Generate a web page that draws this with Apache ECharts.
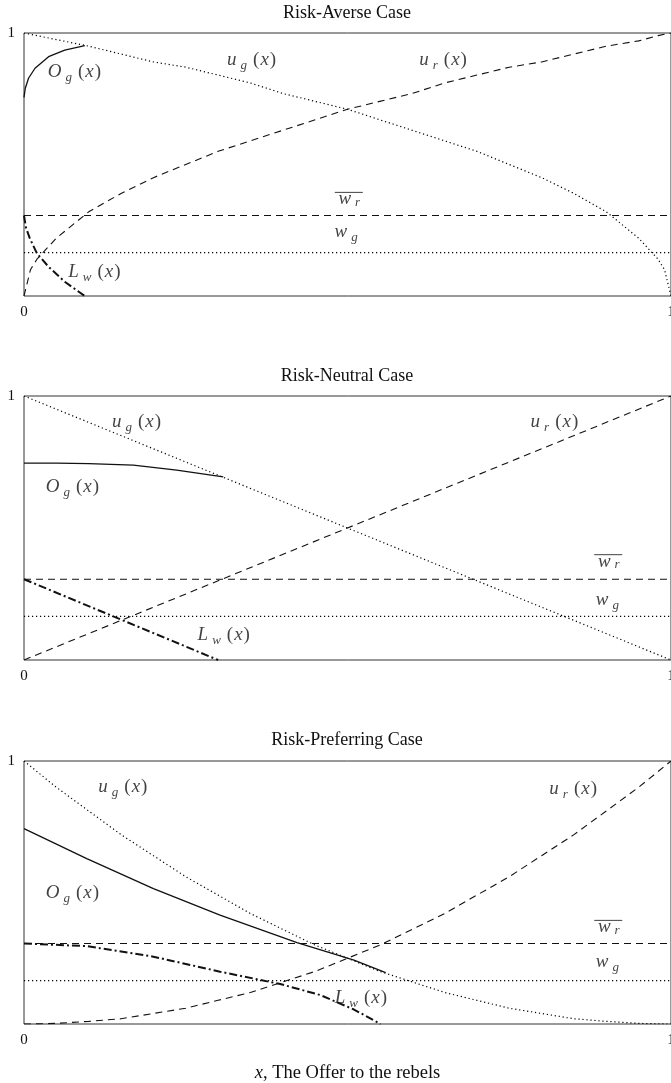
<!DOCTYPE html>
<html>
<head>
<meta charset="utf-8">
<script src="https://cdn.jsdelivr.net/npm/echarts@6/dist/echarts.min.js"></script>
<style>html,body{margin:0;padding:0;background:#fff;}#c{width:671px;height:1083px;}</style>
</head>
<body>
<div id="c"></div>
<script>
// ---- data ----
const panelTitles = ['Risk-Averse Case', 'Risk-Neutral Case', 'Risk-Preferring Case'];
const axisTitle = 'x, The Offer to the rebels';
const xTickLabels = ['0', '1'];
const yTickLabels = ['', '1'];

const wrBar = 0.306;   // reservation value of rebels (dashed horizontal)
const wg = 0.165;      // government war value (dotted horizontal)

// shared x sample points for the utility curves
const xU = [0, 0.01, 0.02, 0.05, 0.1, 0.15, 0.2, 0.25, 0.3, 0.35, 0.4, 0.45, 0.5,
            0.55, 0.6, 0.65, 0.7, 0.75, 0.8, 0.85, 0.9, 0.95, 0.98, 0.99, 1];

// Risk-averse
const ugAverse = [1, 0.995, 0.99, 0.975, 0.95, 0.92, 0.89, 0.87, 0.84, 0.81, 0.77, 0.74, 0.71,
                  0.67, 0.63, 0.59, 0.55, 0.5, 0.45, 0.39, 0.32, 0.22, 0.14, 0.1, 0];
const urAverse = [0, 0.1, 0.14, 0.22, 0.32, 0.39, 0.45, 0.5, 0.55, 0.59, 0.63, 0.67, 0.71,
                  0.74, 0.77, 0.81, 0.84, 0.87, 0.89, 0.92, 0.95, 0.97, 0.99, 0.995, 1];
const xOgAverse = [0, 0.002, 0.007, 0.017, 0.038, 0.063, 0.094];
const ogAverse  = [0.755, 0.79, 0.828, 0.866, 0.91, 0.935, 0.952];
const xLwAverse = [0, 0.003, 0.009, 0.02, 0.038, 0.063, 0.094];
const lwAverse  = [0.306, 0.26, 0.219, 0.162, 0.111, 0.054, 0];

// Risk-neutral
const xLinear = [0, 1];
const ugNeutral = [1, 0];
const urNeutral = [0, 1];
const xOgNeutral = [0, 0.05, 0.1, 0.169, 0.236, 0.308];
const ogNeutral  = [0.746, 0.746, 0.744, 0.738, 0.719, 0.694];
const xLwNeutral = [0, 0.3];
const lwNeutral  = [0.306, 0];

// Risk-preferring
const ugPref = [1, 0.98, 0.96, 0.9, 0.81, 0.72, 0.64, 0.56, 0.49, 0.42, 0.36, 0.3, 0.25,
                0.2, 0.16, 0.12, 0.09, 0.06, 0.04, 0.02, 0.01, 0.0025, 0.0004, 0.0001, 0];
const urPref = [0, 0.0001, 0.0004, 0.0025, 0.01, 0.02, 0.04, 0.06, 0.09, 0.12, 0.16, 0.2, 0.25,
                0.3, 0.36, 0.42, 0.49, 0.56, 0.64, 0.72, 0.81, 0.9, 0.96, 0.98, 1];
const xOgPref = [0, 0.097, 0.2, 0.303, 0.422, 0.51, 0.559];
const ogPref  = [0.743, 0.629, 0.515, 0.414, 0.309, 0.243, 0.195];
const xLwPref = [0, 0.097, 0.2, 0.303, 0.396, 0.458, 0.51, 0.551];
const lwPref  = [0.306, 0.296, 0.256, 0.199, 0.152, 0.11, 0.055, 0];

// label anchors (data coordinates): Og, ug, ur, wr, wg, Lw
const labelNames = ['Og', 'ug', 'ur', 'wr', 'wg', 'Lw'];
const labelXAverse = [0.077, 0.351, 0.647, 0.502, 0.497, 0.108];
const labelYAverse = [0.852, 0.897, 0.897, 0.375, 0.243, 0.091];
const labelXNeutral = [0.074, 0.173, 0.819, 0.903, 0.901, 0.308];
const labelYNeutral = [0.655, 0.902, 0.902, 0.38, 0.227, 0.095];
const labelXPref = [0.074, 0.152, 0.848, 0.903, 0.901, 0.52];
const labelYPref = [0.499, 0.9, 0.894, 0.375, 0.237, 0.098];

// ---- chart ----
const INK = '#111';
const SERIF = 'Liberation Serif';
const zip = (xs, ys) => xs.map((x, i) => [x, ys[i]]);

const labelText = {
  Og: '{i|O}{s|g}{sp| }{p|(}{i|x}{p|)}',
  ug: '{i|u}{s|g}{sp| }{p|(}{i|x}{p|)}',
  ur: '{i|u}{s|r}{sp| }{p|(}{i|x}{p|)}',
  wr: '{ov| }\n{iw|w}{sw|r}',
  wg: '{i|w}{s|g}',
  Lw: '{i|L}{s|w}{sp| }{p|(}{i|x}{p|)}'
};
const rich = {
  i: { fontFamily: SERIF, fontStyle: 'italic', fontSize: 19, color: INK, padding: [0, 1, 0, 1] },
  p: { fontFamily: SERIF, fontSize: 19, color: INK },
  sp: { fontFamily: SERIF, fontSize: 19, width: 6 },
  s: { fontFamily: SERIF, fontStyle: 'italic', fontSize: 13, color: INK, padding: [11, 0, 0, 3] },
  iw: { fontFamily: SERIF, fontStyle: 'italic', fontSize: 19, lineHeight: 10, color: INK, padding: [0, 1, 0, 1] },
  sw: { fontFamily: SERIF, fontStyle: 'italic', fontSize: 13, lineHeight: 6, color: INK, padding: [6, 0, 0, 3] },
  ov: { width: 28, height: 1, backgroundColor: INK, fontSize: 1, lineHeight: 4 }
};

const grids = [
  { left: 24, width: 647, top: 33, height: 263 },
  { left: 24, width: 647, top: 396, height: 264 },
  { left: 24, width: 647, top: 761, height: 263 }
].map(g => Object.assign(g, { show: true, borderColor: '#333', borderWidth: 1,
                              containLabel: false, outerBoundsMode: 'none' }));

const xAxes = grids.map((g, i) => ({
  gridIndex: i, type: 'value', min: 0, max: 1, interval: 1,
  axisLine: { show: false }, axisTick: { show: false }, splitLine: { show: false },
  axisLabel: { margin: 9, fontFamily: SERIF, fontSize: 15, color: INK,
               formatter: v => xTickLabels[Math.round(v)] },
  name: i === 2 ? '{i|x}{t|, The Offer to the rebels}' : '',
  nameLocation: 'middle', nameGap: 40,
  nameTextStyle: { rich: {
    i: { fontFamily: SERIF, fontStyle: 'italic', fontSize: 18.5, color: INK },
    t: { fontFamily: SERIF, fontSize: 18.5, color: INK } } }
}));
const yAxes = grids.map((g, i) => ({
  gridIndex: i, type: 'value', min: 0, max: 1, interval: 1,
  axisLine: { show: false }, axisTick: { show: false }, splitLine: { show: false },
  axisLabel: { margin: 9, fontFamily: SERIF, fontSize: 15, color: INK,
               formatter: v => yTickLabels[Math.round(v)] }
}));

const dotted = { type: [1.2, 2.8], width: 1.2, color: '#000' };
const dashed = { type: [7, 5], width: 1.1, color: INK };
const solid = { type: 'solid', width: 1.3, color: INK };
const dashDot = { type: [8, 3, 2, 3], width: 2, color: INK };

function line(idx, data, style) {
  return { type: 'line', xAxisIndex: idx, yAxisIndex: idx, data, showSymbol: false, symbol: 'none',
           smooth: false, lineStyle: style, silent: true, animation: false, z: 3 };
}
function labels(idx, xs, ys) {
  return { type: 'scatter', xAxisIndex: idx, yAxisIndex: idx, symbolSize: 0, silent: true, animation: false, z: 5,
    data: labelNames.map((n, k) => ({ value: [xs[k], ys[k]],
      label: { show: true, position: 'inside', formatter: labelText[n], rich } })) };
}
function panel(idx, ug, ur, xOg, og, xLw, lw, lx, ly, xu) {
  return [
    line(idx, zip(xu, ug), dotted),
    line(idx, zip(xu, ur), dashed),
    line(idx, [[0, wrBar], [1, wrBar]], dashed),
    line(idx, [[0, wg], [1, wg]], dotted),
    line(idx, zip(xOg, og), solid),
    line(idx, zip(xLw, lw), dashDot),
    labels(idx, lx, ly)
  ];
}

const series = [].concat(
  panel(0, ugAverse, urAverse, xOgAverse, ogAverse, xLwAverse, lwAverse, labelXAverse, labelYAverse, xU),
  panel(1, ugNeutral, urNeutral, xOgNeutral, ogNeutral, xLwNeutral, lwNeutral, labelXNeutral, labelYNeutral, xLinear),
  panel(2, ugPref, urPref, xOgPref, ogPref, xLwPref, lwPref, labelXPref, labelYPref, xU)
);

const titleTops = [4, 367, 731];
const chart = echarts.init(document.getElementById('c'), null, { renderer: 'canvas' });
chart.setOption({
  backgroundColor: '#fff',
  animation: false,
  title: panelTitles.map((t, i) => ({ text: t, left: 347, top: titleTops[i], textAlign: 'center', padding: 0,
    textStyle: { fontFamily: SERIF, fontWeight: 'normal', fontSize: 18, color: INK } })),
  grid: grids, xAxis: xAxes, yAxis: yAxes, series
});
</script>
</body>
</html>
